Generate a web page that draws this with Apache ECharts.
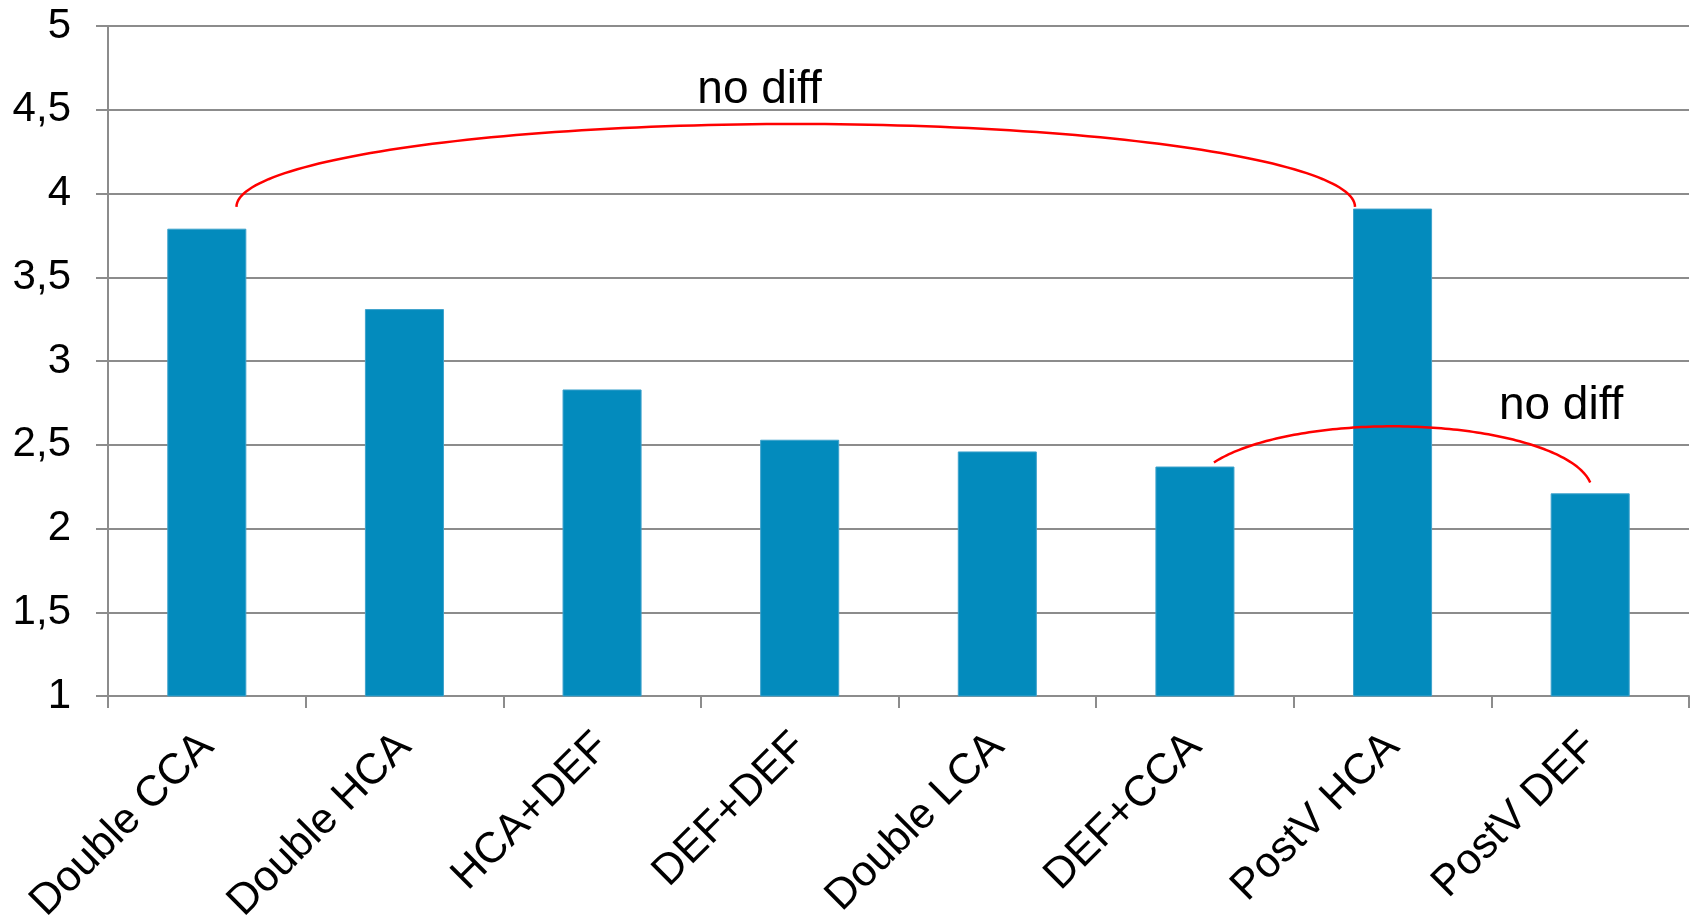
<!DOCTYPE html>
<html>
<head>
<meta charset="utf-8">
<script src="https://cdn.jsdelivr.net/npm/echarts@6/dist/echarts.min.js"></script>
<style>
  html, body { margin: 0; padding: 0; background: #fff; }
  #chart { width: 1696px; height: 917px; }
</style>
</head>
<body>
<div id="chart"></div>
<script>
// Categories and mean values per group
const categories = ['Double CCA', 'Double HCA', 'HCA+DEF', 'DEF+DEF', 'Double LCA', 'DEF+CCA', 'PostV HCA', 'PostV DEF'];
const values = [3.79, 3.31, 2.83, 2.53, 2.46, 2.37, 3.91, 2.21];
const yTicks = [1, 1.5, 2, 2.5, 3, 3.5, 4, 4.5, 5];
const noteText = 'no diff';

const FONT = '"Liberation Sans", Arial, Helvetica, sans-serif';
const GRID_COLOR = '#8c8c8c';
const BAR_COLOR = '#038bbd';

const chart = echarts.init(document.getElementById('chart'), null, { renderer: 'canvas' });

chart.setOption({
  animation: false,
  backgroundColor: '#ffffff',
  grid: { left: 108, right: 7, top: 26, bottom: 221, containLabel: false, outerBoundsMode: 'none' },
  xAxis: {
    type: 'category',
    data: categories,
    boundaryGap: true,
    axisLine: { show: true, lineStyle: { color: GRID_COLOR, width: 2 } },
    axisTick: { show: true, length: 12, inside: false, alignWithLabel: false, lineStyle: { color: GRID_COLOR, width: 2 } },
    axisLabel: {
      rotate: 45,
      margin: 44,
      interval: 0,
      color: '#000',
      fontFamily: FONT,
      fontSize: 43
    },
    splitLine: { show: false }
  },
  yAxis: {
    type: 'value',
    min: yTicks[0],
    max: yTicks[yTicks.length - 1],
    interval: yTicks[1] - yTicks[0],
    axisLine: { show: true, lineStyle: { color: GRID_COLOR, width: 2 } },
    axisTick: { show: true, length: 12, inside: false, lineStyle: { color: GRID_COLOR, width: 2 } },
    axisLabel: {
      margin: 37,
      color: '#000',
      fontFamily: FONT,
      fontSize: 42,
      formatter: v => String(v).replace('.', ',')
    },
    splitLine: { show: true, lineStyle: { color: GRID_COLOR, width: 2 } }
  },
  series: [{
    type: 'bar',
    data: values,
    barWidth: '40%',
    itemStyle: { color: BAR_COLOR, borderColor: '#3ea2cc', borderWidth: 1 },
    z: 3
  }]
});

// Comparison brackets drawn as elliptical arcs, defined in axis units
// (category index, value) and mapped to pixels through the chart's axes.
const brackets = [
  { cx: 2.98, cy: 3.92, rx: 2.83, ry: 0.495, from: 180, to: 0 },
  { cx: 6.00, cy: 2.22, rx: 1.01, ry: 0.39, from: 153.5, to: 8 }
];
const notes = [
  { x: 2.797, y: 4.614 },
  { x: 6.853, y: 2.728 }
];

function px(idx) {
  const p0 = chart.convertToPixel({ xAxisIndex: 0 }, 0);
  const p1 = chart.convertToPixel({ xAxisIndex: 0 }, 1);
  return p0 + idx * (p1 - p0);
}
function py(v) {
  return chart.convertToPixel({ yAxisIndex: 0 }, v);
}

function drawAnnotations() {
  const elements = [];
  brackets.forEach(b => {
    const pts = [];
    const steps = 120;
    for (let i = 0; i <= steps; i++) {
      const a = (b.from + (b.to - b.from) * i / steps) * Math.PI / 180;
      pts.push([px(b.cx + b.rx * Math.cos(a)), py(b.cy + b.ry * Math.sin(a))]);
    }
    elements.push({
      type: 'polyline',
      shape: { points: pts },
      style: { stroke: '#ff0000', lineWidth: 2.5, fill: null },
      z: 10
    });
  });
  notes.forEach(n => {
    elements.push({
      type: 'text',
      x: px(n.x),
      y: py(n.y),
      style: {
        text: noteText,
        font: '46px ' + FONT,
        fill: '#000',
        align: 'center',
        verticalAlign: 'middle'
      },
      z: 10
    });
  });
  chart.setOption({ graphic: { elements: elements } });
}

drawAnnotations();
</script>
</body>
</html>
